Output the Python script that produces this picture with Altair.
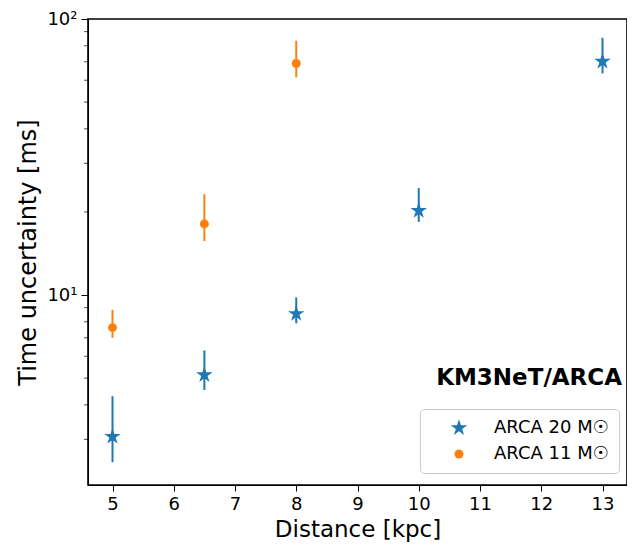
import altair as alt
import pandas as pd

series = ["ARCA 20 M☉", "ARCA 11 M☉"]
colors = ["#1f77b4", "#ff7f0e"]

dist_20 = [5, 6.5, 8, 10, 13]
val_20 = [3.07, 5.13, 8.55, 20.2, 70.2]
lo_20 = [2.48, 4.53, 7.9, 18.4, 63.5]
hi_20 = [4.3, 6.3, 9.8, 24.4, 85.5]

dist_11 = [5, 6.5, 8]
val_11 = [7.62, 18.1, 69.0]
lo_11 = [7.0, 15.7, 61.5]
hi_11 = [8.84, 23.2, 83.4]

x_ticks = [5, 6, 7, 8, 9, 10, 11, 12, 13]
major_y = [10, 100]
minor_y = [3, 4, 5, 6, 7, 8, 9, 20, 30, 40, 50, 60, 70, 80, 90]

rows = []
for d, v, lo, hi in zip(dist_20, val_20, lo_20, hi_20):
    rows.append({"dist": d, "val": v, "lo": lo, "hi": hi, "series": series[0]})
for d, v, lo, hi in zip(dist_11, val_11, lo_11, hi_11):
    rows.append({"dist": d, "val": v, "lo": lo, "hi": hi, "series": series[1]})
df = pd.DataFrame(rows)

STAR = ("M0,-1L0.2245,-0.309L0.951,-0.309L0.363,0.118L0.588,0.809"
        "L0,0.382L-0.588,0.809L-0.363,0.118L-0.951,-0.309L-0.2245,-0.309Z")

FONT = "DejaVu Sans"
W, H = 539, 466
xscale = alt.Scale(domain=[4.6, 13.4], nice=False, zero=False)
yscale = alt.Scale(type="log", domain=[2.05, 100], nice=False)
cscale = alt.Scale(domain=series, range=colors)
sscale = alt.Scale(domain=series, range=[STAR, "circle"])

legend = alt.Legend(
    title=None, orient="none", legendX=332, legendY=390,
    labelFontSize=18, labelFont=FONT, labelColor="black",
    strokeColor="#cccccc", fillColor="white", cornerRadius=4,
    padding=10, symbolSize=260, rowPadding=8, labelOffset=26,
    symbolOffset=20, symbolOpacity=1, symbolStrokeWidth=0)

xaxis = alt.Axis(values=x_ticks, title="Distance [kpc]", grid=False, tickSize=6,
                 labelFontSize=18, titleFontSize=23, labelColor="black",
                 titleColor="black", titleFontWeight="normal", tickColor="black",
                 domainColor="black", labelPadding=4, titlePadding=5,
                 labelFont=FONT, titleFont=FONT, format="d")

yaxis = alt.Axis(values=major_y, title="Time uncertainty [ms]", grid=False,
                 tickSize=7, labelFontSize=18, titleFontSize=24,
                 labelColor="black", titleColor="black",
                 titleFontWeight="normal", tickColor="black",
                 domainColor="black", labelPadding=4, titlePadding=6,
                 labelFont=FONT, titleFont=FONT,
                 labelExpr="datum.value == 10 ? '10¹' : '10²'")

base = alt.Chart(df)

bars = base.mark_rule(strokeWidth=2).encode(
    x=alt.X("dist:Q", scale=xscale, axis=xaxis),
    y=alt.Y("lo:Q", scale=yscale, axis=yaxis),
    y2="hi:Q",
    color=alt.Color("series:N", scale=cscale, legend=legend),
)

points = base.mark_point(filled=True, opacity=1).encode(
    x=alt.X("dist:Q", scale=xscale),
    y=alt.Y("val:Q", scale=yscale),
    color=alt.Color("series:N", scale=cscale, legend=legend),
    shape=alt.Shape("series:N", scale=sscale, legend=legend),
    size=alt.Size("series:N", scale=alt.Scale(domain=series, range=[300, 80]),
                  legend=None),
)

minor = alt.Chart(pd.DataFrame({"m": minor_y})).mark_tick(
    orient="horizontal", size=4, thickness=1, color="black"
).encode(
    y=alt.Y("m:Q", scale=yscale),
    x=alt.value(-2),
)

label = alt.Chart(pd.DataFrame({"t": ["KM3NeT/ARCA"]})).mark_text(
    align="right", baseline="alphabetic", fontSize=23, fontWeight="bold",
    font=FONT, color="black"
).encode(x=alt.value(534), y=alt.value(366), text="t:N")

chart = alt.layer(bars, points, minor, label).properties(
    width=W, height=H,
    autosize=alt.AutoSizeParams(type="none"),
    padding={"left": 80, "top": 11, "right": 0, "bottom": 58},
    background="white",
).configure_view(stroke="black", strokeWidth=1.6)

chart.save("out.html", embed_options={"renderer": "svg", "actions": False})
